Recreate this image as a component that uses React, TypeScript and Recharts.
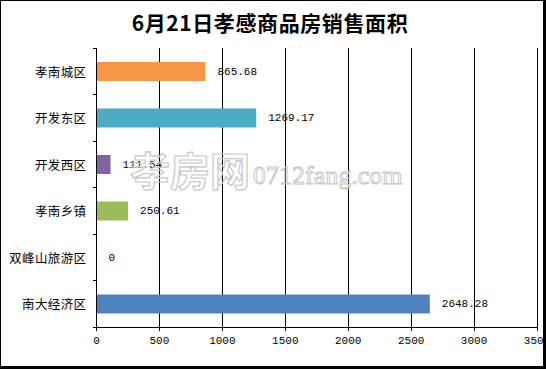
import { Bar, BarChart, CartesianGrid, Cell, LabelList, XAxis, YAxis } from 'recharts';

const districts = ['孝南城区', '开发东区', '开发西区', '孝南乡镇', '双峰山旅游区', '南大经济区'];
const areas = [865.68, 1269.17, 111.54, 250.61, 0, 2648.28];
const barColors = ['#f79646', '#4bacc6', '#8064a2', '#9bbb59', '#4f81bd', '#4f81bd'];
const xTicks = [0, 500, 1000, 1500, 2000, 2500, 3000, 3500];

const data = districts.map((name, i) => ({ name, value: areas[i] }));

const monoFont = '"Liberation Mono", "DejaVu Sans Mono", monospace';
const cjkFont = '"Noto Sans CJK SC", sans-serif';

function CategoryTick(props: any) {
  const { x, y, payload, index, visibleTicksCount } = props;
  const half = payload && payload.offset ? payload.offset : 23.25;
  const lx1 = x + 6;
  const lx2 = x + 10;
  return (
    <g>
      <line x1={lx1} x2={lx2} y1={y - half} y2={y - half} stroke="#000" shapeRendering="crispEdges" />
      {index === visibleTicksCount - 1 && (
        <line x1={lx1} x2={lx2} y1={y + half} y2={y + half} stroke="#000" shapeRendering="crispEdges" />
      )}
      <text x={x} y={y} textAnchor="end" dominantBaseline="central" fontSize={12.5} letterSpacing={0.4} fontFamily={cjkFont} fill="#000">
        {payload.value}
      </text>
    </g>
  );
}

function ValueLabel(props: any) {
  const { x, y, width, height, value } = props;
  return (
    <text
      x={Number(x) + Number(width || 0) + 12}
      y={Number(y) + Number(height) / 2}
      dominantBaseline="central"
      fontSize={11}
      fontFamily={monoFont}
      fill="#000"
    >
      {String(value)}
    </text>
  );
}

// a zero bar still needs a (invisible) rect so its "0" label gets drawn
const minSize = (v: any) => (Number(v) === 0 ? 0.01 : 0);

export default function App() {
  return (
    <div style={{ position: 'absolute', left: 0, top: 0, width: 546, height: 369, background: '#000' }}>
      <style>{'.recharts-cartesian-grid line, .recharts-cartesian-axis line { shape-rendering: crispEdges; }'}</style>
      <div style={{ position: 'absolute', left: 1, top: 1, width: 542, height: 365, background: '#fff' }} />
      <div
        style={{
          position: 'absolute',
          left: 0,
          top: 8,
          width: 540,
          textAlign: 'center',
          fontFamily: cjkFont,
          fontWeight: 700,
          fontSize: 21,
          letterSpacing: 0.6,
          lineHeight: '28px',
          color: '#000',
        }}
      >
        6月21日孝感商品房销售面积
      </div>
      <div style={{ position: 'absolute', left: 0, top: 0 }}>
        <BarChart
          width={546}
          height={369}
          data={data}
          layout="vertical"
          margin={{ top: 48, right: 9, bottom: 12, left: 0.5 }}
        >
          <CartesianGrid horizontal={false} vertical stroke="#000" />
          <XAxis
            type="number"
            domain={[0, 3500]}
            ticks={xTicks}
            interval={0}
            height={30}
            tickSize={4}
            tickMargin={5}
            axisLine={{ stroke: '#000' }}
            tickLine={{ stroke: '#000' }}
            tick={{ fill: '#000', fontSize: 11, fontFamily: monoFont }}
          />
          <YAxis
            type="category"
            dataKey="name"
            width={96}
            tickSize={4}
            tickMargin={6}
            tickLine={false}
            axisLine={{ stroke: '#000' }}
            tick={<CategoryTick />}
            interval={0}
          />
          <Bar dataKey="value" barSize={19} isAnimationActive={false} minPointSize={minSize}>
            {data.map((d, i) => (
              <Cell key={d.name} fill={barColors[i]} />
            ))}
            <LabelList dataKey="value" content={<ValueLabel />} />
          </Bar>
        </BarChart>
      </div>
      <svg style={{ position: 'absolute', left: 0, top: 0 }} width={546} height={369}>
        <text x={130} y={186} fontSize={40} fontWeight={700} fontFamily={cjkFont} fill="none" stroke="#c8c8c8" strokeWidth={1.2}>
          孝房网
        </text>
        <text x={253} y={184} fontSize={26} fontFamily='"Liberation Serif", serif' fill="none" stroke="#c8c8c8" strokeWidth={1}>
          0712fang.com
        </text>
      </svg>
    </div>
  );
}
